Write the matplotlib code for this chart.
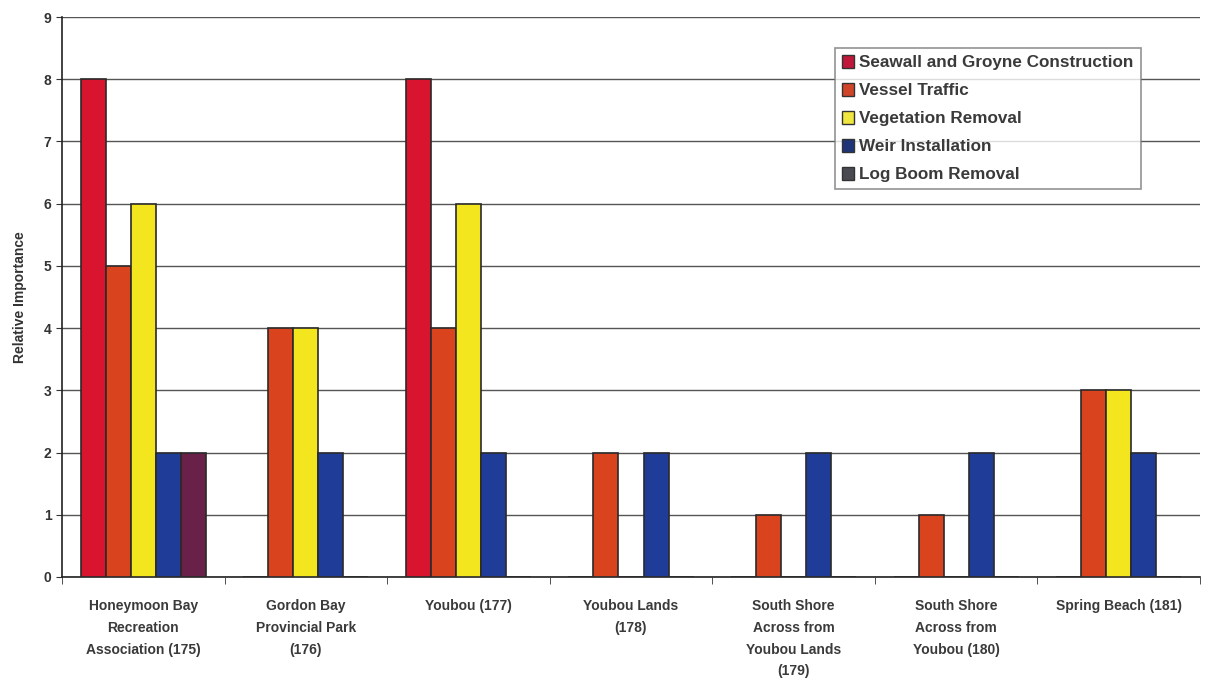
import matplotlib
matplotlib.use("Agg")
import matplotlib.pyplot as plt
import numpy as np
from matplotlib.patches import Patch

plt.rcParams['font.family'] = ['Liberation Sans', 'DejaVu Sans']

categories = [
    "Honeymoon Bay\nRecreation\nAssociation (175)",
    "Gordon Bay\nProvincial Park\n(176)",
    "Youbou (177)",
    "Youbou Lands\n(178)",
    "South Shore\nAcross from\nYoubou Lands\n(179)",
    "South Shore\nAcross from\nYoubou (180)",
    "Spring Beach (181)",
]
series_names = [
    "Seawall and Groyne Construction",
    "Vessel Traffic",
    "Vegetation Removal",
    "Weir Installation",
    "Log Boom Removal",
]
seawall = [8, 0, 8, 0, 0, 0, 0]
vessel = [5, 4, 4, 2, 1, 1, 3]
vegetation = [6, 4, 6, 0, 0, 0, 3]
weir = [2, 2, 2, 2, 2, 2, 2]
logboom = [2, 0, 0, 0, 0, 0, 0]
series_values = [seawall, vessel, vegetation, weir, logboom]
bar_colors = ["#d8142f", "#d9441f", "#f3e61f", "#1f3d98", "#6a2149"]
legend_colors = ["#c0183a", "#d0452a", "#f0e640", "#1f3478", "#4a4a52"]
yticks = list(range(0, 10))

fig = plt.figure(figsize=(12.08, 6.82), dpi=100)
ax = fig.add_axes([0.0513, 0.154, 0.9421, 0.821])

x = np.arange(len(categories))
w = 0.154
n = len(series_values)
for i, (vals, col) in enumerate(zip(series_values, bar_colors)):
    offs = (i - (n - 1) / 2) * w
    ax.bar(x + offs, vals, width=w, color=col, edgecolor="#2a2a2a",
           linewidth=1.2, zorder=3)

ax.set_xlim(-0.5, len(categories) - 0.5)
ax.set_ylim(0, 9)
ax.set_yticks(yticks)
ax.set_yticklabels([str(t) for t in yticks], fontsize=10, fontweight="bold",
                   color="#333333")
ax.yaxis.grid(True, color="#555555", linewidth=1.0, zorder=0)
ax.set_axisbelow(True)

ax.set_xticks(x)
ax.set_xticklabels(categories, fontsize=10, fontweight="bold",
                   color="#3a3a3a", linespacing=1.7)
ax.tick_params(axis="x", length=0, pad=16)
ax.set_xticks(np.arange(-0.5, len(categories)), minor=True)
ax.tick_params(axis="x", which="minor", length=5, color="#333333")
ax.tick_params(axis="y", length=4, color="#333333")

for s in ["top", "right"]:
    ax.spines[s].set_visible(False)
for s in ["left", "bottom"]:
    ax.spines[s].set_color("#222222")
    ax.spines[s].set_linewidth(1.2)

ax.set_ylabel("Relative Importance", fontsize=10, fontweight="bold",
              color="#333333", labelpad=12)

handles = [Patch(facecolor=c, edgecolor="#333333", linewidth=1.0)
           for c in legend_colors]
leg = fig.legend(handles, series_names, loc="upper left",
                 bbox_to_anchor=(0.691, 0.930),
                 frameon=True, fancybox=False, handlelength=0.75,
                 handleheight=0.85, handletextpad=0.3, labelspacing=0.72,
                 borderpad=0.4, borderaxespad=0.0,
                 prop={"weight": "bold", "size": 12.3})
leg.get_frame().set_edgecolor("#777777")
leg.get_frame().set_linewidth(1.2)
for t in leg.get_texts():
    t.set_color("#3a3a3a")

fig.savefig("out.png", dpi=100, facecolor="white")
